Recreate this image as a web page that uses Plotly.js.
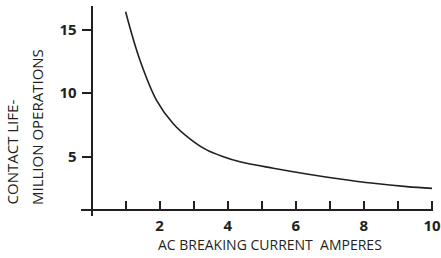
<!DOCTYPE html>
<html>
<head>
<meta charset="utf-8">
<script src="https://cdn.plot.ly/plotly-3.0.1.min.js"></script>
<style>html,body{margin:0;padding:0;background:#fff;}#chart{width:441px;height:258px;}</style>
</head>
<body>
<div id="chart"></div>
<script>
// Data
var current = [1.0, 1.42, 1.91, 2.4, 2.89, 3.38, 3.87, 4.36, 5.34, 6.32, 7.3, 8.28, 9.26, 10.0];
var life    = [16.4, 12.6, 9.43, 7.59, 6.4, 5.53, 5.0, 4.6, 4.09, 3.64, 3.24, 2.9, 2.64, 2.5];

var xTickVals = [1, 2, 3, 4, 5, 6, 7, 8, 9, 10];
var xTickText = ['', '2', '', '4', '', '6', '', '8', '', '10'];
var yTickVals = [5, 10, 15];
var yTickText = ['5', '10', '15'];

var xTitle = 'AC BREAKING CURRENT  AMPERES';
var yTitleLine1 = 'CONTACT LIFE-';
var yTitleLine2 = 'MILLION OPERATIONS';

var ink = '#231f20';
var tickFont = {family: 'Open Sans, sans-serif', size: 15, weight: 700, color: ink};
var xTitleFont = {family: 'Open Sans, sans-serif', size: 14, color: ink};
var yTitleFont = {family: 'Open Sans, sans-serif', size: 15, color: ink};

var trace = {
  x: current, y: life, type: 'scatter', mode: 'lines',
  line: {color: ink, width: 1.6, shape: 'spline', smoothing: 1},
  hoverinfo: 'none'
};

var layout = {
  width: 441, height: 258,
  margin: {l: 81, r: 8, t: 6, b: 42},
  paper_bgcolor: '#fff', plot_bgcolor: '#fff',
  showlegend: false,
  xaxis: {
    range: [-0.31, 10.03], anchor: 'free', position: 0.0286,
    showgrid: false, zeroline: false,
    showline: true, linecolor: ink, linewidth: 2.5,
    tickmode: 'array', tickvals: xTickVals, ticktext: xTickText,
    ticks: 'inside', ticklen: 8, tickwidth: 2, tickcolor: ink,
    tickfont: tickFont, ticklabelstandoff: 2
  },
  yaxis: {
    range: [0.33, 16.85], anchor: 'free', position: 0.0304,
    showgrid: false, zeroline: false,
    showline: true, linecolor: ink, linewidth: 2.5,
    tickmode: 'array', tickvals: yTickVals, ticktext: yTickText,
    ticks: 'outside', ticklen: 9, tickwidth: 2, tickcolor: ink,
    tickfont: tickFont, ticklabelstandoff: 2
  },
  annotations: [
    {text: xTitle, xref: 'paper', yref: 'paper', x: 0.538, y: -0.138,
     xanchor: 'center', yanchor: 'middle', showarrow: false, font: xTitleFont},
    {text: yTitleLine1, xref: 'paper', yref: 'paper', x: -0.196, y: 0.043,
     xanchor: 'center', yanchor: 'bottom', textangle: -90, showarrow: false, font: yTitleFont},
    {text: yTitleLine2, xref: 'paper', yref: 'paper', x: -0.125, y: 0.043,
     xanchor: 'center', yanchor: 'bottom', textangle: -90, showarrow: false, font: yTitleFont}
  ]
};

Plotly.newPlot('chart', [trace], layout, {staticPlot: true, displayModeBar: false});
</script>
</body>
</html>
